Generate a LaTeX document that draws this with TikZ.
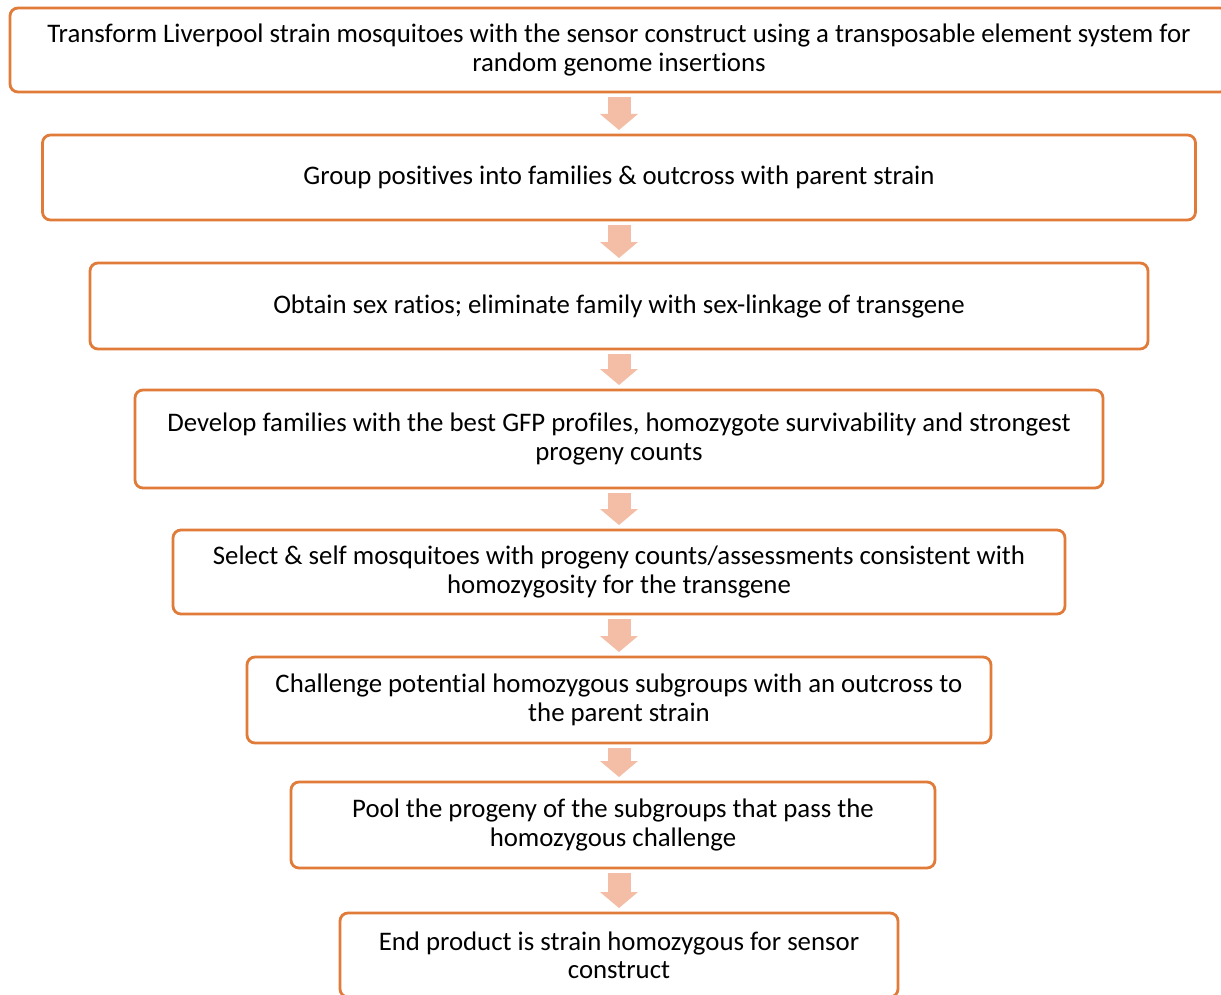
\documentclass[tikz,border=0pt]{standalone}
\usepackage{fontspec}
\setmainfont{Carlito}[Ligatures=NoCommon]
\usepackage{tikz}
\usetikzlibrary{arrows.meta, positioning}
\definecolor{stageedge}{HTML}{E07B39}
\definecolor{stagearrow}{HTML}{F4BDA5}

\begin{document}
\begin{tikzpicture}[
    node distance=21.5pt,
    stage/.style={rectangle, draw=stageedge, line width=1.4pt, outer sep=0pt, rounded corners=4pt, align=center, inner sep=0pt, minimum height=42pt, font=\fontsize{13.4}{14.2}\selectfont},
    flow/.style={draw=stagearrow, line width=11.5pt, -{Triangle[width=19pt, length=8pt, line width=0pt]}, shorten <=2.5pt, shorten >=2.5pt}
]
\useasboundingbox (0,0) rectangle (610.5pt,-497.5pt);
\node[stage, minimum width=609pt] (transform) at (309.5pt,-25pt) {Transform Liverpool strain mosquitoes with the sensor construct using a transposable element system for\\random genome insertions};
\node[stage, minimum width=576.5pt, minimum height=42.5pt, below=21.5pt of transform] (group) {Group positives into families \& outcross with parent strain};
\node[stage, minimum width=529pt, minimum height=43pt, below=21.5pt of group] (sexratio) {Obtain sex ratios; eliminate family with sex-linkage of transgene};
\node[stage, minimum width=484pt, minimum height=49pt, below=20.5pt of sexratio] (develop) {Develop families with the best GFP profiles, homozygote survivability and strongest\\progeny counts};
\node[stage, minimum width=446pt, below=21pt of develop] (select) {Select \& self mosquitoes with progeny counts/assessments consistent with\\homozygosity for the transgene};
\node[stage, minimum width=372pt, minimum height=43pt, below=21.5pt of select] (challenge) {Challenge potential homozygous subgroups with an outcross to\\the parent strain};
\node[stage, minimum width=322pt, minimum height=43pt, below=19.5pt of challenge, xshift=-3pt] (pool) {Pool the progeny of the subgroups that pass the\\homozygous challenge};
\node[stage, minimum width=279pt, below=22.5pt of pool, xshift=3pt] (endproduct) {End product is strain homozygous for sensor\\construct};
% block arrows between the stages
\draw[flow] (transform) -- (group);
\draw[flow] (group) -- (sexratio);
\draw[flow] (sexratio) -- (develop);
\draw[flow] (develop) -- (select);
\draw[flow] (select) -- (challenge);
\draw[flow] (challenge.south) -- (challenge.south |- pool.north);
\draw[flow] (pool.south -| endproduct.north) -- (endproduct.north);
\end{tikzpicture}
\end{document}
